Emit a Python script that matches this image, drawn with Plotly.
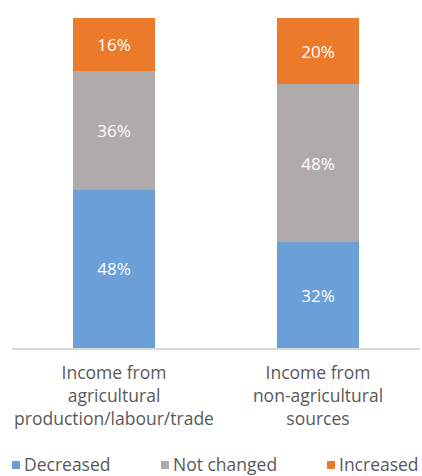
import plotly.graph_objects as go

# Share of households by change in income, per income source (percent)
categories = [
    "Income from<br>agricultural<br>production/labour/trade",
    "Income from<br>non-agricultural<br>sources",
]
decreased = [48, 32]
not_changed = [36, 48]
increased = [16, 20]

series = [
    ("Decreased", decreased, "#6A9FD8"),
    ("Not changed", not_changed, "#AFABAB"),
    ("Increased", increased, "#EC7A2B"),
]

FONT = "Open Sans"
TEXT_GREY = "#595959"

W, H = 422, 476
M_L, M_R, M_T, M_B = 12, 2, 18, 128
PLOT_W = W - M_L - M_R
PLOT_H = H - M_T - M_B


def px_x(px):
    """Pixel column -> paper x."""
    return (px - M_L) / PLOT_W


def px_y(py):
    """Pixel row (from top) -> paper y."""
    return (H - M_B - py) / PLOT_H


fig = go.Figure()
for name, values, color in series:
    fig.add_trace(
        go.Bar(
            name=name,
            x=categories,
            y=values,
            marker=dict(color=color, line=dict(width=0)),
            width=0.4,
            texttemplate="%{y}%",
            textposition="inside",
            insidetextanchor="middle",
            textfont=dict(family=FONT, size=17, color="white"),
            hoverinfo="skip",
            showlegend=False,
        )
    )

# Legend row along the bottom edge: colour key square + series name
legend_pos = [12, 161, 327]
LEGEND_MID = 464
for (name, _, color), left in zip(series, legend_pos):
    fig.add_shape(
        type="rect",
        xref="paper", yref="paper",
        x0=px_x(left), x1=px_x(left + 8),
        y0=px_y(LEGEND_MID + 5), y1=px_y(LEGEND_MID - 3),
        fillcolor=color, line=dict(width=0),
    )
    fig.add_annotation(
        text=name,
        xref="paper", yref="paper",
        x=px_x(left + 10), y=px_y(LEGEND_MID),
        xanchor="left", yanchor="middle",
        showarrow=False,
        font=dict(family=FONT, size=17.5, color=TEXT_GREY),
    )

fig.update_layout(
    barmode="stack",
    width=W,
    height=H,
    margin=dict(l=M_L, r=M_R, t=M_T, b=M_B, autoexpand=False),
    paper_bgcolor="white",
    plot_bgcolor="white",
    font=dict(family=FONT, color=TEXT_GREY),
    showlegend=False,
)
fig.update_xaxes(
    showline=True,
    linecolor="#D9D9D9",
    linewidth=2,
    ticks="",
    ticklabelstandoff=8,
    tickfont=dict(family=FONT, size=17.5, color=TEXT_GREY),
    showgrid=False,
    zeroline=False,
    fixedrange=True,
    automargin=False,
)
fig.update_yaxes(
    range=[0, 100],
    visible=False,
    showgrid=False,
    zeroline=False,
    fixedrange=True,
    automargin=False,
)

fig.write_html("out.html")
